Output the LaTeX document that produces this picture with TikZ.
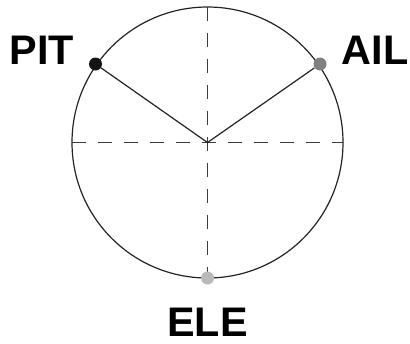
\documentclass[tikz,border=0pt]{standalone}
\usepackage{fontspec}
\setmainfont{Liberation Sans}
\begin{document}
\begin{tikzpicture}[x=0.75pt,y=0.75pt,yscale=-1,xscale=1,
	knob/.style={circle,inner sep=0pt,minimum size=9.75pt},
	chname/.style={font=\fontsize{31}{31}\selectfont\bfseries,inner sep=0.75pt},
	axisline/.style={color={rgb, 255:red, 60; green, 60; blue, 60},line width=0.75,dash pattern={on 10.5pt off 9pt}}]
\useasboundingbox (0,0) rectangle (410,343);

\coordinate (O) at (207.5,142.5);
%Shape: Circle
\draw [color={rgb, 255:red, 35; green, 35; blue, 35 },line width=0.9] (O) circle (135.5);

%Axes
\coordinate (left) at (72,142.5);
\coordinate (right) at (343,142.5);
\coordinate (top) at (207.5,7);
\coordinate (bottom) at (207.5,278);
\draw [axisline] (left) -- (right);
\draw [axisline] (top) -- (bottom);

%Dots on the circle
\node [knob,fill={rgb, 255:red, 20; green, 20; blue, 20 }] (pit) at (95.5,64) {};
\node [knob,fill={rgb, 255:red, 128; green, 128; blue, 128 }] (ail) at (320,64) {};
\node [knob,fill={rgb, 255:red, 185; green, 185; blue, 185 }] (ele) at (207.5,278) {};

%Arms
\draw [color={rgb, 255:red, 35; green, 35; blue, 35 },line width=0.9] (pit) -- (O) -- (ail);

% Text Node
\node [chname] (pitlabel) at (42,50) {PIT};
% Text Node
\node [chname] (aillabel) at (375,50) {AIL};
% Text Node
\node [chname] (elelabel) at (207.5,322) {ELE};

\end{tikzpicture}
\end{document}
